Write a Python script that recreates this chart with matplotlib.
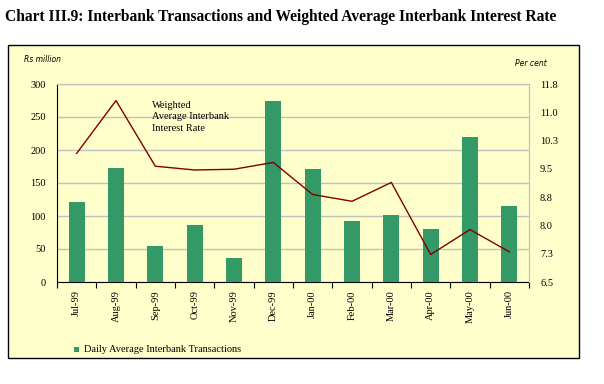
import matplotlib
matplotlib.use("Agg")
import matplotlib.pyplot as plt
from matplotlib.patches import Rectangle
from matplotlib.ticker import FixedLocator
import numpy as np

months = ["Jul-99", "Aug-99", "Sep-99", "Oct-99", "Nov-99", "Dec-99",
          "Jan-00", "Feb-00", "Mar-00", "Apr-00", "May-00", "Jun-00"]
transactions = [121, 172, 54, 87, 37, 274, 171, 92, 102, 80, 219, 115]
rate = [9.91, 11.31, 9.57, 9.47, 9.49, 9.67, 8.82, 8.64, 9.14, 7.23, 7.89, 7.30]
left_ticks = [0, 50, 100, 150, 200, 250, 300]
right_ticks = [6.5, 7.25, 8.0, 8.75, 9.5, 10.25, 11.0, 11.75]
right_labels = ["6.5", "7.3", "8.0", "8.8", "9.5", "10.3", "11.0", "11.8"]

serif = ["Liberation Serif", "DejaVu Serif"]
W, H = 604, 384
fig = plt.figure(figsize=(W / 100, H / 100), dpi=100)
fig.patch.set_facecolor("white")

# Panel background
panel = Rectangle((8 / W, 1 - 358 / H), 571 / W, 313 / H, transform=fig.transFigure,
                  facecolor="#FFFFCC", edgecolor="black", linewidth=1.0, zorder=-10)
fig.patches.append(panel)

fig.text(5 / W, 1 - 17 / H,
         "Chart III.9: Interbank Transactions and Weighted Average Interbank Interest Rate",
         fontsize=11.2, fontweight="bold", family=serif, va="center", ha="left")

ax = fig.add_axes([57 / W, 1 - 282 / H, 472 / W, 198 / H])
ax.set_facecolor("none")
x = np.arange(len(months))
ax.bar(x, transactions, width=0.41, color="#339966", zorder=3,
       label="Daily Average Interbank Transactions")
ax.set_xlim(-0.5, len(months) - 0.5)
ax.set_ylim(0, 300)
ax.set_yticks(left_ticks)
ax.yaxis.grid(True, color="#C0C0C0", linewidth=1.0, zorder=0)
ax.set_axisbelow(True)
ax.tick_params(axis="y", length=0, pad=8, labelsize=7.5)
ax.set_xticks(x)
ax.set_xticklabels(months, rotation=90, family=serif, fontsize=7.5)
ax.tick_params(axis="x", length=0, pad=6)
ax.xaxis.set_minor_locator(FixedLocator(np.arange(-0.5, len(months), 1.0)))
ax.tick_params(axis="x", which="minor", length=4, width=0.8, color="black", direction="out")
for lab in ax.get_yticklabels():
    lab.set_family(serif)
ax.spines["left"].set_color("black")
ax.spines["bottom"].set_color("black")
ax.spines["top"].set_color("#C0C0C0")
ax.spines["right"].set_color("#C0C0C0")

ax2 = ax.twinx()
ax2.plot(x, rate, color="#800000", linewidth=1.0, zorder=4)
ax2.set_ylim(6.5, 11.75)
ax2.set_yticks(right_ticks)
ax2.set_yticklabels(right_labels, family=serif, fontsize=7.5)
ax2.tick_params(axis="y", length=0, pad=8)
for s in ["left", "bottom"]:
    ax2.spines[s].set_visible(False)
ax2.spines["top"].set_color("#C0C0C0")
ax2.spines["right"].set_color("#C0C0C0")

fig.text(24 / W, 1 - 59 / H, "Rs million", fontsize=5.5, style="italic",
         family=["DejaVu Sans"], va="center", ha="left")
fig.text(515 / W, 1 - 64 / H, "Per cent", fontsize=5.5, style="italic",
         family=["DejaVu Sans"], va="center", ha="left")

fig.text(152 / W, 1 - 101 / H, "Weighted\nAverage Interbank\nInterest Rate",
         fontsize=7.5, family=serif, va="top", ha="left", linespacing=1.35)

# Legend
fig.patches.append(Rectangle((74 / W, 1 - 352 / H), 5 / W, 5 / H, transform=fig.transFigure,
                             facecolor="#339966", edgecolor="none"))
fig.text(84 / W, 1 - 349 / H, "Daily Average Interbank Transactions", fontsize=7.5,
         family=serif, va="center", ha="left")

fig.savefig("out.png", dpi=100, facecolor="white")
